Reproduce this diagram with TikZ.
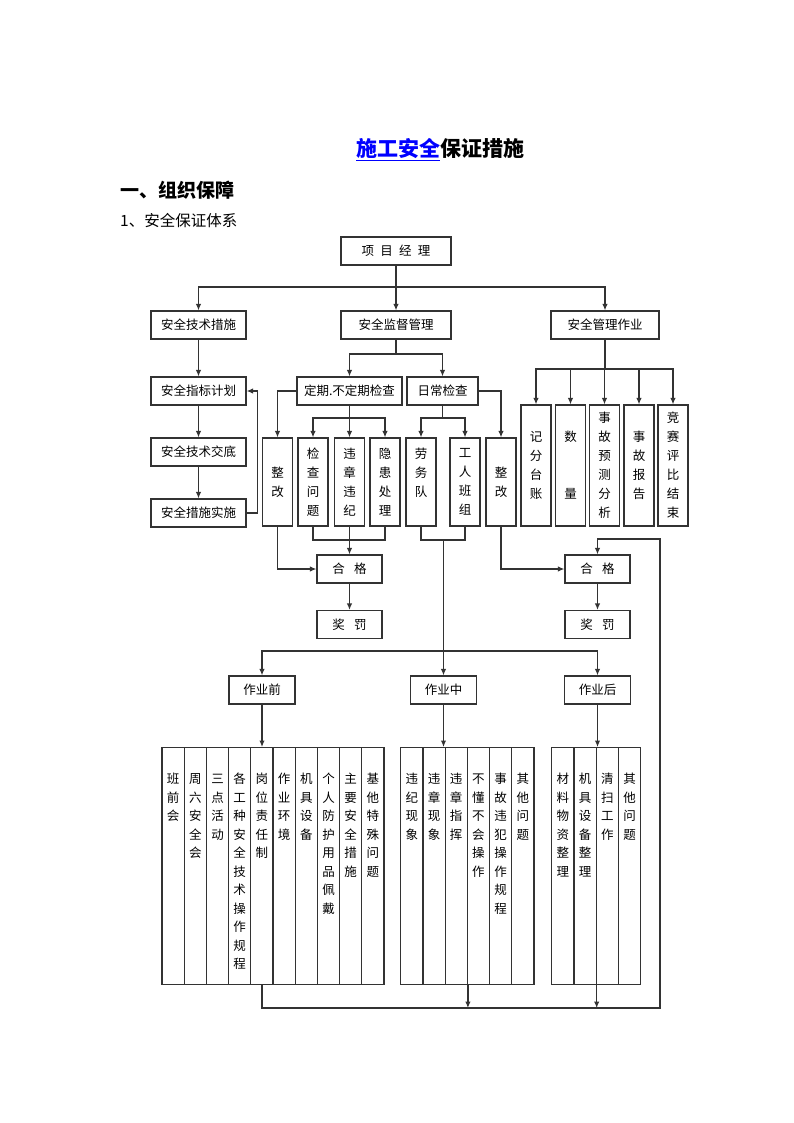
\documentclass[tikz,border=0pt]{standalone}
\usepackage{fontspec}
\setmainfont{Noto Sans CJK SC}
\usetikzlibrary{arrows.meta}

\tikzset{
  box/.style={draw=black!80, line width=1.2pt, minimum height=28pt, inner sep=0pt,
    font=\fontsize{12.5}{19}\selectfont},
  vcol/.style={draw=black!80, line width=1.2pt, minimum width=30pt, inner sep=0pt,
    text width=14pt, align=center, font=\fontsize{12.5}{19}\selectfont},
  lcol/.style={draw=black!80, line width=1.2pt, anchor=north, minimum width=22.2pt,
    minimum height=237pt, inner sep=0pt, text width=14pt, align=center,
    text height=36pt, text depth=201pt, font=\fontsize{12.5}{18.5}\selectfont},
  link/.style={draw=black!80, line width=1.2pt},
}

\begin{document}
\begin{tikzpicture}[x=1pt, y=-1pt, >={Latex[length=6.5pt,width=5.5pt]}]
    \useasboundingbox (0,0) rectangle (794,1123);

    % Headings
    \node[inner sep=0pt, font=\fontsize{21}{21}\selectfont\bfseries] (title) at (440,150) {\textcolor{blue}{\underline{施工安全}}保证措施};
    \node[anchor=west, inner sep=0pt, font=\fontsize{19}{19}\selectfont\bfseries] (sec) at (120,190) {一、组织保障};
    \node[anchor=west, inner sep=0pt, font=\fontsize{15.5}{15.5}\selectfont] (subsec) at (120,221) {1、安全保证体系};

    % Top levels
    \node[box, minimum width=110pt] (pm) at (396,251) {项\hspace{0.5em}目\hspace{0.5em}经\hspace{0.5em}理};
    \node[box, minimum width=95pt] (tech) at (198.5,325) {安全技术措施};
    \node[box, minimum width=110pt] (sup) at (396,325) {安全监督管理};
    \node[box, minimum width=108pt] (mgmt) at (605,325) {安全管理作业};

    % Technical measures chain
    \node[box, minimum width=95pt] (plan) at (198.5,391) {安全指标计划};
    \node[box, minimum width=95pt] (brief) at (198.5,452) {安全技术交底};
    \node[box, minimum width=95pt] (impl) at (198.5,513) {安全措施实施};

    % Inspections
    \node[box, minimum width=105pt] (regck) at (349.5,391) {定期.不定期检查};
    \node[box, minimum width=71pt] (dayck) at (442.5,391) {日常检查};

    \node[vcol, minimum height=88pt] (fixl) at (277.5,482) {整\\改};
    \node[vcol, minimum height=88pt] (ckq) at (313,482) {检\\查\\问\\题};
    \node[vcol, minimum height=88pt] (viol) at (349.5,482) {违\\章\\违\\纪};
    \node[vcol, minimum height=88pt] (haz) at (385,482) {隐\\患\\处\\理};
    \node[vcol, minimum height=88pt] (labor) at (421,482) {劳\\务\\队\\~};
    \node[vcol, minimum height=88pt] (crew) at (465,482) {工\\人\\班\\组};
    \node[vcol, minimum height=88pt] (fixr) at (501,482) {整\\改};

    % Management work
    \node[vcol, minimum height=121pt] (acct) at (536,465.5) {记\\分\\台\\账};
    \node[vcol, minimum height=121pt] (qty) at (570.5,465.5) {数\\~\\~\\量};
    \node[vcol, minimum height=121pt] (pred) at (604.5,465.5) {事\\故\\预\\测\\分\\析};
    \node[vcol, minimum height=121pt] (rep) at (639,465.5) {事\\故\\报\\告};
    \node[vcol, minimum height=121pt] (comp) at (673,465.5) {竞\\赛\\评\\比\\结\\束};

    % Pass and reward
    \node[box, minimum width=65pt] (okl) at (349.5,569) {合\hspace{0.75em}格};
    \node[box, minimum width=65pt] (rwl) at (349.5,624.5) {奖\hspace{0.75em}罚};
    \node[box, minimum width=65pt] (okr) at (597.5,569) {合\hspace{0.75em}格};
    \node[box, minimum width=65pt] (rwr) at (597.5,624.5) {奖\hspace{0.75em}罚};

    % Work stages
    \node[box, minimum width=66pt] (pre) at (262,690) {作业前};
    \node[box, minimum width=66pt] (mid) at (443.5,690) {作业中};
    \node[box, minimum width=66pt] (post) at (597.5,690) {作业后};

    % Before work
    \node[lcol] (p1) at (173.1,747) {班\\前\\会};
    \node[lcol] (p2) at (195.3,747) {周\\六\\安\\全\\会};
    \node[lcol] (p3) at (217.5,747) {三\\点\\活\\动};
    \node[lcol] (p4) at (239.7,747) {各\\工\\种\\安\\全\\技\\术\\操\\作\\规\\程};
    \node[lcol] (p5) at (261.9,747) {岗\\位\\责\\任\\制};
    \node[lcol] (p6) at (284.1,747) {作\\业\\环\\境};
    \node[lcol] (p7) at (306.3,747) {机\\具\\设\\备};
    \node[lcol] (p8) at (328.5,747) {个\\人\\防\\护\\用\\品\\佩\\戴};
    \node[lcol] (p9) at (350.7,747) {主\\要\\安\\全\\措\\施};
    \node[lcol] (p10) at (372.9,747) {基\\他\\特\\殊\\问\\题};

    % During work
    \node[lcol] (m1) at (411.8,747) {违\\纪\\现\\象};
    \node[lcol] (m2) at (434.0,747) {违\\章\\现\\象};
    \node[lcol] (m3) at (456.2,747) {违\\章\\指\\挥};
    \node[lcol] (m4) at (478.4,747) {不\\懂\\不\\会\\操\\作};
    \node[lcol] (m5) at (500.6,747) {事\\故\\违\\犯\\操\\作\\规\\程};
    \node[lcol] (m6) at (522.8,747) {其\\他\\问\\题};

    % After work
    \node[lcol] (a1) at (562.8,747) {材\\料\\物\\资\\整\\理};
    \node[lcol] (a2) at (585.0,747) {机\\具\\设\\备\\整\\理};
    \node[lcol] (a3) at (607.3,747) {清\\扫\\工\\作};
    \node[lcol] (a4) at (629.5,747) {其\\他\\问\\题};

    % Junction points
    \coordinate (bus1) at (396,287);
    \coordinate (bus2) at (396,354);
    \coordinate (bus3) at (349.5,418);
    \coordinate (bus4) at (442.5,418);
    \coordinate (bus5) at (605,369);
    \coordinate (bus6) at (349.5,540);
    \coordinate (bus7) at (443.5,540);
    \coordinate (bus8) at (443.5,651);
    \coordinate (loopl) at (262,1008);
    \coordinate (loopr) at (660,1008);
    \coordinate (loopt) at (660,539);

    % Draw connectors from the manager
    \draw[link] (pm) -- (bus1);
    \draw[link,->] (bus1) -| (tech.north);
    \draw[link,->] (bus1) -- (sup);
    \draw[link,->] (bus1) -| (mgmt.north);

    % Technical measures chain
    \draw[link,->] (tech) -- (plan);
    \draw[link,->] (plan) -- (brief);
    \draw[link,->] (brief) -- (impl);
    \draw[link,->] (impl.east) -- ++(11,0) |- (plan.east);

    % Supervision branches
    \draw[link] (sup) -- (bus2);
    \draw[link,->] (bus2) -| (regck.north);
    \draw[link,->] (bus2) -| (dayck.north);
    \draw[link,->] (regck.west) -| (fixl.north);
    \draw[link] (regck) -- (bus3);
    \draw[link,->] (bus3) -| (ckq.north);
    \draw[link,->] (bus3) -- (viol.north);
    \draw[link,->] (bus3) -| (haz.north);
    \draw[link] (dayck) -- (bus4);
    \draw[link,->] (bus4) -| (labor.north);
    \draw[link,->] (bus4) -| (crew.north);
    \draw[link,->] (dayck.east) -| (fixr.north);

    % Management work branches
    \draw[link] (mgmt) -- (bus5);
    \draw[link,->] (bus5) -| (acct.north);
    \draw[link,->] (bus5) -| (qty.north);
    \draw[link,->] (bus5) -| (pred.north);
    \draw[link,->] (bus5) -| (rep.north);
    \draw[link,->] (bus5) -| (comp.north);

    % Pass and reward
    \draw[link] (ckq.south) |- (bus6) -| (haz.south);
    \draw[link,->] (viol.south) -- (okl.north);
    \draw[link,->] (fixl.south) |- (okl.west);
    \draw[link,->] (okl) -- (rwl);
    \draw[link,->] (fixr.south) |- (okr.west);
    \draw[link,->] (okr) -- (rwr);

    % Work stages
    \draw[link] (labor.south) |- (bus7) -| (crew.south);
    \draw[link,->] (bus7) -- (mid.north);
    \draw[link,->] (bus8) -| (pre.north);
    \draw[link,->] (bus8) -| (post.north);
    \draw[link,->] (pre) -- (pre.south |- p5.north);
    \draw[link,->] (mid) -- (mid.south |- m1.north);
    \draw[link,->] (post) -- (post.south |- a1.north);

    % Feedback loop
    \draw[link,->] (pre.south |- p1.south) -- (loopl) -- (loopr) -- (loopt) -| (okr.north);
    \draw[link,->] (m3.south east) -- (m3.south east |- loopl);
    \draw[link,->] (a2.south east) -- (a2.south east |- loopl);
\end{tikzpicture}
\end{document}
